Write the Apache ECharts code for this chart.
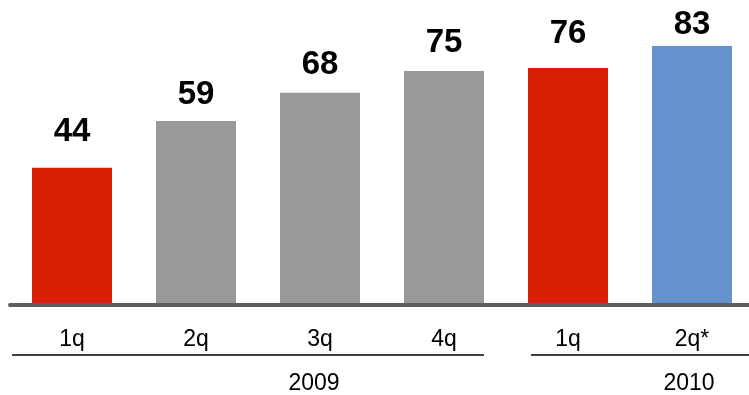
<!DOCTYPE html>
<html>
<head>
<meta charset="utf-8">
<script src="https://cdn.jsdelivr.net/npm/echarts@6/dist/echarts.min.js"></script>
<style>
  html, body { margin: 0; padding: 0; background: #fff; overflow: hidden; }
  /* the last category band runs a little past the right edge of the window */
  #chart { width: 754px; height: 395px; }
</style>
</head>
<body>
<div id="chart"></div>
<script>
// Quarterly values, 2009 through 2q 2010
const quarters = ['1q', '2q', '3q', '4q', '1q', '2q*'];
const values = [44, 59, 68, 75, 76, 83];
const years = ['2009', '2010'];

// Bar fills: first quarters highlighted in red, forecast quarter in blue
const barColors = ['#d81f05', '#999999', '#999999', '#999999', '#d81f05', '#6592cc'];
// Space between each value label and its bar top
const labelGap = [19, 10, 11, 12, 17, 5];

const FONT = '"Liberation Sans", Arial, sans-serif';

const chart = echarts.init(document.getElementById('chart'));

chart.setOption({
  backgroundColor: '#ffffff',
  animation: false,
  grid: { left: 10, right: 0, top: 5.5, bottom: 90 },
  xAxis: {
    type: 'category',
    data: quarters,
    z: 5,
    axisLine: { show: true, lineStyle: { color: '#595e62', width: 4 } },
    axisTick: { show: false },
    axisLabel: { color: '#000', fontFamily: FONT, fontSize: 23, margin: 23 }
  },
  yAxis: {
    type: 'value',
    min: 0,
    max: 96,
    show: false,
    splitLine: { show: false }
  },
  series: [{
    type: 'bar',
    barWidth: 80,
    data: values.map((v, i) => ({
      value: v,
      itemStyle: { color: barColors[i] },
      label: { distance: labelGap[i] }
    })),
    label: {
      show: true,
      position: 'top',
      color: '#000',
      fontFamily: FONT,
      fontWeight: 'bold',
      fontSize: 33
    }
  }],
  graphic: [
    { type: 'line', shape: { x1: 12, y1: 355, x2: 484, y2: 355 },
      style: { stroke: '#000', lineWidth: 1.5 } },
    { type: 'line', shape: { x1: 531, y1: 355, x2: 754, y2: 355 },
      style: { stroke: '#000', lineWidth: 1.5 } },
    { type: 'text', x: 314, y: 384,
      style: { text: years[0], fill: '#000', font: '23px ' + FONT,
               textAlign: 'center', textVerticalAlign: 'middle' } },
    { type: 'text', x: 689, y: 384,
      style: { text: years[1], fill: '#000', font: '23px ' + FONT,
               textAlign: 'center', textVerticalAlign: 'middle' } }
  ]
});
</script>
</body>
</html>
